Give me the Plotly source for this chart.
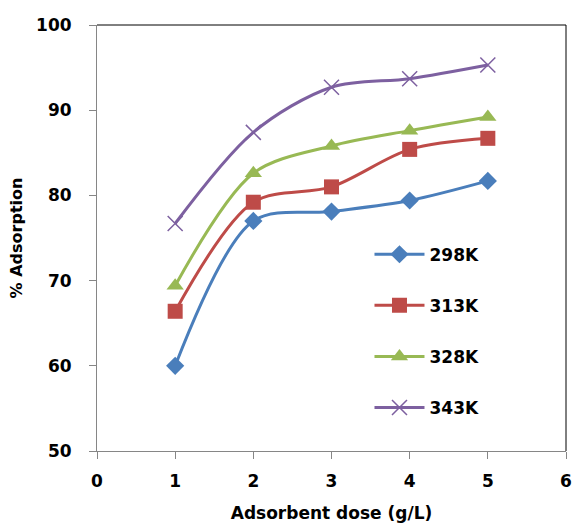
import plotly.graph_objects as go

dose = [1, 2, 3, 4, 5]
s298 = [60.0, 77.0, 78.1, 79.4, 81.7]
s313 = [66.4, 79.2, 81.0, 85.4, 86.7]
s328 = [69.4, 82.6, 85.8, 87.6, 89.2]
s343 = [76.7, 87.4, 92.7, 93.7, 95.3]
names = ["298K", "313K", "328K", "343K"]
colors = ["#4A7EBB", "#BE4B48", "#98B954", "#7D60A0"]
symbols = ["diamond", "square", "triangle-up", "x-thin-open"]
sizes = [14, 15, 15, 15]
series = [s298, s313, s328, s343]

FONT = "DejaVu Sans"
fig = go.Figure()
for i, (nm, ys) in enumerate(zip(names, series)):
    mk = dict(symbol=symbols[i], size=sizes[i], color=colors[i])
    if symbols[i] == "x-thin-open":
        mk["line"] = dict(color=colors[i], width=1.5)
    else:
        mk["line"] = dict(width=0)
    fig.add_trace(go.Scatter(
        x=dose, y=ys, name=nm, mode="lines+markers",
        line=dict(color=colors[i], width=3, shape="spline", smoothing=0.9),
        marker=mk, legendgroup=nm,
    ))

tickfont = dict(family=FONT, size=17, color="black", weight="bold")
axis_common = dict(
    showgrid=False, zeroline=False, showline=True, linecolor="#868686", linewidth=1,
    ticks="outside", ticklen=7, tickcolor="#868686", tickfont=tickfont,
)
fig.update_layout(
    width=578, height=525,
    margin=dict(l=97, r=6, t=25, b=73),
    paper_bgcolor="white", plot_bgcolor="white",
    xaxis=dict(range=[0, 6], dtick=1, tick0=0, ticklabelstandoff=8,
               title=dict(text="Adsorbent dose (g/L)", standoff=16,
                          font=dict(family=FONT, size=17, color="black", weight="bold")),
               **axis_common),
    yaxis=dict(range=[50, 100], dtick=10, tick0=50, ticklabelstandoff=14,
               title=dict(text="% Adsorption", standoff=9,
                          font=dict(family=FONT, size=16, color="black", weight="bold")),
               **axis_common),
    legend=dict(x=0.581, y=0.503, xanchor="left", yanchor="top",
                bgcolor="rgba(0,0,0,0)", tracegroupgap=26, traceorder="grouped",
                itemwidth=50,
                font=dict(family=FONT, size=17, color="black", weight="bold")),
    shapes=[
        dict(type="line", xref="paper", yref="paper", x0=0, x1=1, y0=1, y1=1,
             line=dict(color="black", width=1)),
        dict(type="line", xref="paper", yref="paper", x0=1, x1=1, y0=0, y1=1,
             line=dict(color="black", width=1)),
    ],
)
fig.write_html("out.html")
